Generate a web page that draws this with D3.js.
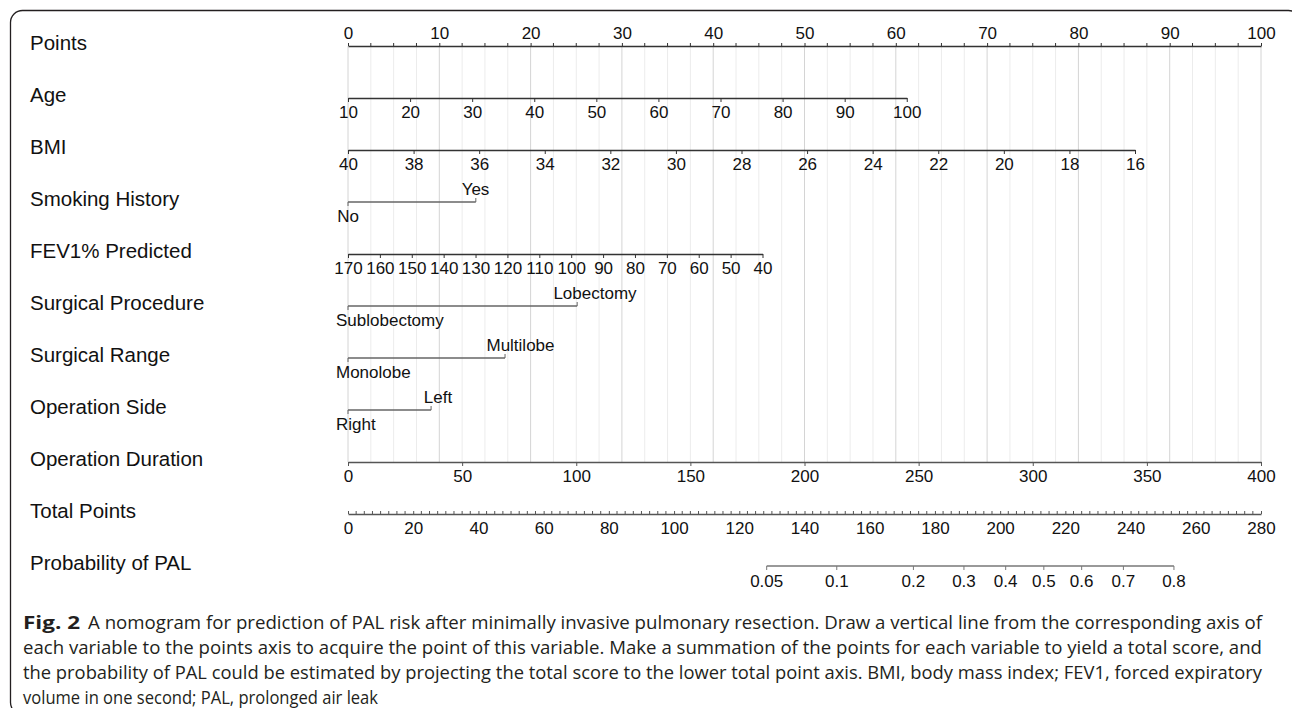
<!DOCTYPE html>
<html><head><meta charset="utf-8">
<script src="https://cdn.jsdelivr.net/npm/d3@7"></script>
<style>html,body{margin:0;padding:0;background:#fff;}svg{display:block;}</style>
</head><body>
<svg id="chart" width="1292" height="708"></svg>
<script>
// ---------- data ----------
const rowLabels = ["Points","Age","BMI","Smoking History","FEV1% Predicted","Surgical Procedure","Surgical Range","Operation Side","Operation Duration","Total Points","Probability of PAL"];

const pointsTicks = [0,10,20,30,40,50,60,70,80,90,100];

const ageTicks = [10,20,30,40,50,60,70,80,90,100];
const ageDomain = [10,100];
const agePoints = [0,61.2];

const bmiTicks = [40,38,36,34,32,30,28,26,24,22,20,18,16];
const bmiDomain = [40,16];
const bmiPoints = [0,86.2];

const smokingLevels = ["No","Yes"];
const smokingPoints = [0,14.0];

const fevTicks = [170,160,150,140,130,120,110,100,90,80,70,60,50,40];
const fevDomain = [170,40];
const fevPoints = [0,45.4];

const procedureLevels = ["Sublobectomy","Lobectomy"];
const procedurePoints = [0,25.1];

const rangeLevels = ["Monolobe","Multilobe"];
const rangePoints = [0,17.2];

const sideLevels = ["Right","Left"];
const sidePoints = [0,9.1];

const durationTicks = [0,50,100,150,200,250,300,350,400];
const durationDomain = [0,400];
const durationPoints = [0,100];

const totalTicks = [0,20,40,60,80,100,120,140,160,180,200,220,240,260,280];

const probTicks = [0.05,0.1,0.2,0.3,0.4,0.5,0.6,0.7,0.8];
const probTickLabels = ["0.05","0.1","0.2","0.3","0.4","0.5","0.6","0.7","0.8"];
const probTotalPoints = [128.4,149.9,173.4,188.9,201.7,213.4,225.0,237.8,253.3];

const captionBold = "Fig. 2";
const captionLines = [
  "A nomogram for prediction of PAL risk after minimally invasive pulmonary resection. Draw a vertical line from the corresponding axis of",
  "each variable to the points axis to acquire the point of this variable. Make a summation of the points for each variable to yield a total score, and",
  "the probability of PAL could be estimated by projecting the total score to the lower total point axis. BMI, body mass index; FEV1, forced expiratory",
  "volume in one second; PAL, prolonged air leak"
];

// ---------- layout ----------
const svg = d3.select("#chart");
const X0 = 348, X1 = 1261;
const rowY = rowLabels.map((d,i) => 46 + i*52);
const x = d3.scaleLinear().domain([0,100]).range([X0,X1]);
const xTotal = d3.scaleLinear().domain([0,280]).range([X0,X1]);
const numFont = "'Liberation Sans', Arial, Helvetica, sans-serif";
const tickFontSize = 17;

// frame
svg.append("rect")
  .attr("x",10.5).attr("y",10.5).attr("width",1290).attr("height",704)
  .attr("rx",12).attr("ry",12)
  .attr("fill","none").attr("stroke","#231f20").attr("stroke-width",1.3);

// gridlines
const g = svg.append("g");
const minorGrid = d3.range(0,100.001,2.5);
g.selectAll("line.grid").data(minorGrid).join("line")
  .attr("x1",d=>x(d)).attr("x2",d=>x(d))
  .attr("y1",rowY[0]).attr("y2",rowY[8])
  .attr("stroke",d=> (d%10===0) ? "#d4d4d4" : "#ececec")
  .attr("stroke-width",1);

// row labels
svg.append("g").selectAll("text").data(rowLabels).join("text")
  .attr("x",30).attr("y",(d,i)=>rowY[i]-1)
  .attr("dominant-baseline","middle")
  .attr("font-family",numFont).attr("font-size",20.5)
  .attr("fill","#111").text(d=>d);

function styleAxis(sel, color, width){
  sel.select(".domain").attr("stroke",color).attr("stroke-width",width);
  sel.selectAll(".tick line").attr("stroke",color).attr("stroke-width",1);
  sel.selectAll(".tick text").attr("font-family",numFont).attr("font-size",tickFontSize).attr("fill","#111");
  sel.attr("font-family",numFont);
}

// Points axis (labels above, ticks up)
const pAx = svg.append("g").attr("transform",`translate(0,${rowY[0]})`)
  .call(d3.axisTop(x).tickValues(pointsTicks).tickSize(3).tickSizeOuter(0).tickPadding(4));
styleAxis(pAx,"#333",1.5);
svg.append("g").attr("transform",`translate(0,${rowY[0]})`)
  .selectAll("line").data(minorGrid.filter(d=>d%10!==0)).join("line")
  .attr("x1",d=>x(d)).attr("x2",d=>x(d)).attr("y1",0).attr("y2",-3)
  .attr("stroke","#333").attr("stroke-width",1);

// numeric variable axes
function numericAxis(row, ticks, domain, pts, color){
  const s = d3.scaleLinear().domain(domain).range(pts.map(x));
  const a = svg.append("g").attr("transform",`translate(0,${rowY[row]})`)
    .call(d3.axisBottom(s).tickValues(ticks).tickSize(4).tickSizeOuter(0).tickPadding(4));
  styleAxis(a,color,1.5);
}
numericAxis(1, ageTicks, ageDomain, agePoints, "#333");
numericAxis(2, bmiTicks, bmiDomain, bmiPoints, "#333");
numericAxis(4, fevTicks, fevDomain, fevPoints, "#333");
numericAxis(8, durationTicks, durationDomain, durationPoints, "#555");

// categorical axes
const catLabelCenterTop = {3:475.5, 5:595, 6:520.5, 7:438};
function catAxis(row, levels, pts){
  const y = rowY[row];
  const gg = svg.append("g").attr("transform",`translate(0,${y})`);
  const xa = x(pts[0]), xb = x(pts[1]);
  gg.append("line").attr("x1",xa).attr("x2",xb).attr("y1",0).attr("y2",0)
    .attr("stroke","#666").attr("stroke-width",1.3);
  gg.append("line").attr("x1",xa).attr("x2",xa).attr("y1",0).attr("y2",4).attr("stroke","#666");
  gg.append("line").attr("x1",xb).attr("x2",xb).attr("y1",0).attr("y2",-4).attr("stroke","#666");
  const low = gg.append("text").attr("y",20).attr("font-family",numFont)
    .attr("font-size",tickFontSize).attr("fill","#111").text(levels[0]);
  const w = low.node().getComputedTextLength();
  low.attr("x", Math.max(336, xa - w/2));
  gg.append("text").attr("y",-7).attr("text-anchor","middle")
    .attr("x", catLabelCenterTop[row])
    .attr("font-family",numFont).attr("font-size",tickFontSize).attr("fill","#111").text(levels[1]);
}
catAxis(3, smokingLevels, smokingPoints);
catAxis(5, procedureLevels, procedurePoints);
catAxis(6, rangeLevels, rangePoints);
catAxis(7, sideLevels, sidePoints);

// Total points axis (ticks up, labels below)
const tAx = svg.append("g").attr("transform",`translate(0,${rowY[9]})`)
  .call(d3.axisBottom(xTotal).tickValues(totalTicks).tickSize(-3).tickSizeOuter(0).tickPadding(8));
styleAxis(tAx,"#555",1.5);
svg.append("g").attr("transform",`translate(0,${rowY[9]})`)
  .selectAll("line").data(d3.range(0,280.001,2.5).filter(d=>d%20!==0)).join("line")
  .attr("x1",d=>xTotal(d)).attr("x2",d=>xTotal(d)).attr("y1",0).attr("y2",-3)
  .attr("stroke","#555").attr("stroke-width",1);

// Probability axis
const probScale = d3.scaleOrdinal().domain(probTicks).range(probTotalPoints.map(xTotal));
const prAx = svg.append("g").attr("transform",`translate(0,${rowY[10]})`);
prAx.append("line").attr("x1",xTotal(probTotalPoints[0])).attr("x2",xTotal(probTotalPoints[probTotalPoints.length-1]))
  .attr("stroke","#777").attr("stroke-width",1.5);
const pt = prAx.selectAll("g").data(probTicks).join("g")
  .attr("transform",d=>`translate(${probScale(d)},0)`);
pt.append("line").attr("y1",0).attr("y2",4).attr("stroke","#777");
pt.append("text").attr("y",21).attr("text-anchor","middle")
  .attr("font-family",numFont).attr("font-size",tickFontSize).attr("fill","#111")
  .text((d,i)=>probTickLabels[i]);

// caption (Myriad-like look: Open Sans slightly condensed to the measured line widths)
const capFont = "'Open Sans', 'Noto Sans', sans-serif";
const capY = [629, 654, 679, 704];
const capStart = [88, 23, 23, 23];
const capEnd = [1262, 1262, 1262, 378];
svg.append("text").attr("x",23).attr("y",capY[0])
  .attr("font-family",capFont).attr("font-weight","bold").attr("font-size",18.5)
  .attr("fill","#231f20").attr("textLength",57).attr("lengthAdjust","spacingAndGlyphs")
  .text(captionBold);
svg.append("g").selectAll("text").data(captionLines).join("text")
  .attr("x",(d,i)=>capStart[i]).attr("y",(d,i)=>capY[i])
  .attr("font-family",capFont).attr("font-size",18.5).attr("fill","#231f20")
  .attr("textLength",(d,i)=>capEnd[i]-capStart[i]).attr("lengthAdjust","spacingAndGlyphs")
  .text(d=>d);
</script>
</body></html>
